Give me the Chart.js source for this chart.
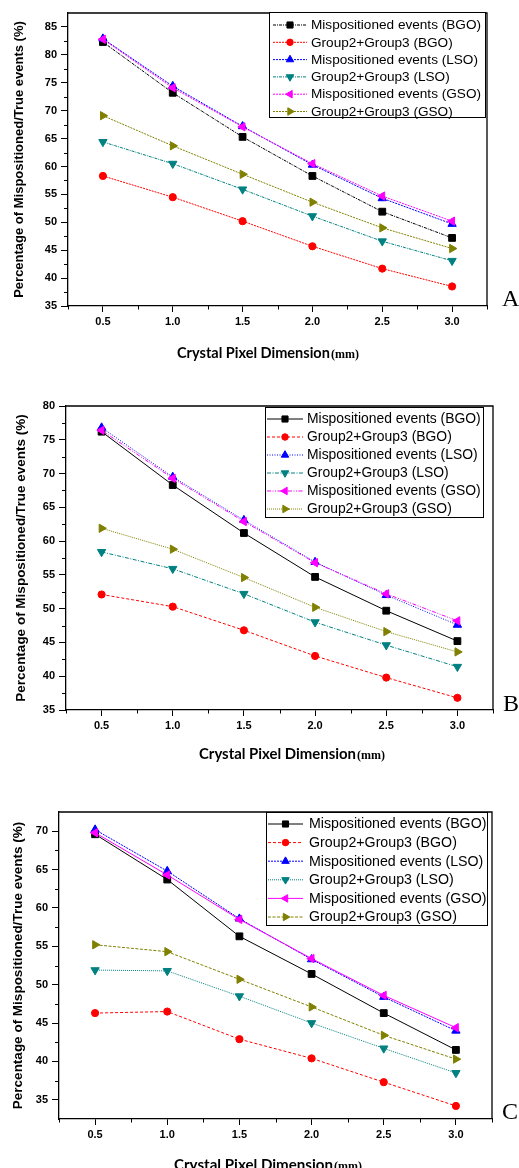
<!DOCTYPE html>
<html>
<head>
<meta charset="utf-8">
<script src="https://cdn.jsdelivr.net/npm/chart.js@4.4.1/dist/chart.umd.min.js"></script>
<style>
  html, body { margin: 0; padding: 0; background: #fff; }
  canvas { position: absolute; left: 0; }
</style>
</head>
<body>
<canvas id="chartA" style="top:0px" width="519" height="390"></canvas>
<canvas id="chartB" style="top:390px" width="519" height="390"></canvas>
<canvas id="chartC" style="top:780px" width="519" height="388"></canvas>
<script>
// crystal pixel size (mm)
const pixelSizes = [0.5, 1.0, 1.5, 2.0, 2.5, 3.0];
const xTicks = [0.5, 1.0, 1.5, 2.0, 2.5, 3.0];

const seriesNames = [
  'Mispositioned events (BGO)',
  'Group2+Group3 (BGO)',
  'Mispositioned events (LSO)',
  'Group2+Group3 (LSO)',
  'Mispositioned events (GSO)',
  'Group2+Group3 (GSO)'
];

// panel A
const misBgoA = [82.3, 73.2, 65.3, 58.3, 51.9, 47.2];
const grpBgoA = [58.3, 54.5, 50.2, 45.7, 41.7, 38.5];
const misLsoA = [82.9, 74.4, 67.2, 60.3, 54.3, 49.7];
const grpLsoA = [64.4, 60.5, 55.9, 51.1, 46.6, 43.1];
const misGsoA = [82.8, 74.1, 67.1, 60.5, 54.7, 50.2];
const grpGsoA = [69.1, 63.7, 58.6, 53.6, 49.0, 45.3];
const yTicksA = [35, 40, 45, 50, 55, 60, 65, 70, 75, 80, 85];

// panel B
const misBgoB = [76.2, 68.3, 61.2, 54.7, 49.7, 45.2];
const grpBgoB = [52.1, 50.3, 46.8, 43.0, 39.8, 36.8];
const misLsoB = [76.8, 69.5, 63.1, 56.9, 52.0, 47.6];
const grpLsoB = [58.4, 55.9, 52.2, 48.0, 44.6, 41.4];
const misGsoB = [76.4, 69.3, 62.9, 56.8, 52.2, 48.2];
const grpGsoB = [61.9, 58.8, 54.6, 50.2, 46.6, 43.6];
const yTicksB = [35, 40, 45, 50, 55, 60, 65, 70, 75, 80];

// panel C
const misBgoC = [69.6, 63.7, 56.3, 51.4, 46.3, 41.5];
const grpBgoC = [46.3, 46.5, 42.9, 40.4, 37.3, 34.2];
const misLsoC = [70.2, 64.8, 58.6, 53.3, 48.4, 44.0];
const grpLsoC = [51.9, 51.8, 48.5, 45.0, 41.7, 38.5];
const misGsoC = [69.8, 64.3, 58.5, 53.4, 48.6, 44.4];
const grpGsoC = [55.2, 54.3, 50.7, 47.1, 43.4, 40.3];
const yTicksC = [35, 40, 45, 50, 55, 60, 65, 70];

// marker + colour per series (same in every panel)
const seriesColors = ['#000000', '#ff0000', '#0000ff', '#008080', '#ff00ff', '#808000'];
const seriesMarkers = ['rect', 'circle', 'triangle', 'triangle', 'triangle', 'triangle'];
const seriesRotation = [0, 0, 0, 180, 270, 90];
const seriesRadius = [4.8, 3.6, 4.8, 4.8, 4.8, 4.8];

function pts(vals) {
  return vals.map((v, i) => ({ x: pixelSizes[i], y: v }));
}

function drawMarker(ctx, style, rot, r, x, y) {
  if (Chart.helpers && Chart.helpers.drawPoint) {
    Chart.helpers.drawPoint(ctx, { pointStyle: style, rotation: rot, radius: r, borderWidth: 1 }, x, y);
  }
}

// frame, minor ticks, x title, panel letter, legend
const extrasPlugin = {
  id: 'extras',
  afterDraw(chart) {
    const cfg = chart.options.plugins.extras;
    const ctx = chart.ctx;
    const a = chart.chartArea;
    const xs = chart.scales.x, ys = chart.scales.y;
    ctx.save();

    // box top and right
    ctx.strokeStyle = '#000';
    ctx.lineWidth = 1.3;
    ctx.beginPath();
    ctx.moveTo(a.left, a.top);
    ctx.lineTo(a.right, a.top);
    ctx.lineTo(a.right, a.bottom);
    ctx.stroke();

    // minor ticks
    ctx.lineWidth = 1;
    ctx.beginPath();
    cfg.yMinor.forEach(v => {
      const py = Math.round(ys.getPixelForValue(v)) + 0.5;
      ctx.moveTo(a.left - 4, py); ctx.lineTo(a.left, py);
    });
    cfg.xMinor.forEach(v => {
      const px = Math.round(xs.getPixelForValue(v)) + 0.5;
      ctx.moveTo(px, a.bottom); ctx.lineTo(px, a.bottom + 3.5);
    });
    ctx.stroke();

    // x axis title: "Crystal Pixel Dimension" + small "(mm)"
    const main = 'Crystal Pixel Dimension';
    ctx.font = 'bold 100px Lato';
    const w100 = ctx.measureText(main).width;
    const fs = 100 * cfg.titleWidth / w100;
    ctx.font = 'bold ' + fs.toFixed(2) + 'px Lato';
    ctx.fillStyle = '#000';
    ctx.textBaseline = 'alphabetic';
    ctx.textAlign = 'left';
    ctx.fillText(main, cfg.titleX, cfg.titleY);
    ctx.font = 'bold 12px "Liberation Serif"';
    ctx.fillText('(mm)', cfg.titleX + cfg.titleWidth + 1, cfg.titleY);

    // panel letter
    ctx.font = '24px "Liberation Serif"';
    ctx.fillText(cfg.letter, cfg.letterX, cfg.letterY);

    // legend
    const lg = cfg.legend;
    ctx.fillStyle = '#fff';
    ctx.fillRect(lg.x, lg.y, lg.w, lg.h);
    ctx.strokeStyle = '#000';
    ctx.lineWidth = 1;
    ctx.strokeRect(lg.x + 0.5, lg.y + 0.5, lg.w, lg.h);
    chart.data.datasets.forEach((ds, i) => {
      const cy = lg.y + lg.first + i * lg.gap;
      ctx.strokeStyle = ds.borderColor;
      ctx.lineWidth = ds.borderWidth;
      ctx.setLineDash(ds.borderDash || []);
      ctx.beginPath();
      ctx.moveTo(lg.lineX0, cy);
      ctx.lineTo(lg.lineX1, cy);
      ctx.stroke();
      ctx.setLineDash([]);
      ctx.fillStyle = ds.pointBackgroundColor;
      ctx.strokeStyle = ds.pointBorderColor;
      drawMarker(ctx, ds.pointStyle, ds.pointRotation, ds.pointRadius * 0.9, (lg.lineX0 + lg.lineX1) / 2, cy);
      ctx.fillStyle = '#000';
      ctx.font = lg.font + 'px "Liberation Sans"';
      ctx.textBaseline = 'middle';
      ctx.fillText(ds.label, lg.textX, cy + 0.5);
    });
    ctx.restore();
  }
};

function makePanel(id, p) {
  const datasets = p.series.map((vals, i) => ({
    label: seriesNames[i],
    data: pts(vals),
    borderColor: seriesColors[i],
    backgroundColor: seriesColors[i],
    borderWidth: 1,
    borderDash: p.dashes[i],
    pointStyle: seriesMarkers[i],
    pointRotation: seriesRotation[i],
    pointRadius: seriesRadius[i],
    pointBackgroundColor: seriesColors[i],
    pointBorderColor: seriesColors[i],
    pointBorderWidth: 1,
    tension: 0,
    order: 5 - i
  }));

  const tickFont = { family: 'Liberation Sans', size: 11, weight: 'bold' };

  new Chart(document.getElementById(id).getContext('2d'), {
    type: 'line',
    data: { datasets: datasets },
    options: {
      responsive: false,
      animation: false,
      devicePixelRatio: 1,
      layout: { padding: { left: 0, top: p.top, right: p.right, bottom: 0 } },
      scales: {
        x: {
          type: 'linear',
          min: 0.25,
          max: 3.25,
          afterBuildTicks: s => { s.ticks = xTicks.map(v => ({ value: v })); },
          afterFit: s => { s.height = p.xAxisHeight; },
          ticks: {
            font: tickFont,
            color: '#000',
            padding: 3,
            maxRotation: 0,
            autoSkip: false,
            callback: v => Number(v).toFixed(1)
          },
          grid: { drawOnChartArea: false, drawTicks: true, tickLength: 6, tickColor: '#000', tickWidth: 1 },
          border: { display: true, color: '#000', width: 1.3 }
        },
        y: {
          type: 'linear',
          min: p.yMin,
          max: p.yMax,
          afterBuildTicks: s => { s.ticks = p.yTicks.map(v => ({ value: v })); },
          afterFit: s => { s.width = p.yAxisWidth; },
          ticks: { font: tickFont, color: '#000', padding: 4, autoSkip: false },
          grid: { drawOnChartArea: false, drawTicks: true, tickLength: 7, tickColor: '#000', tickWidth: 1 },
          border: { display: true, color: '#000', width: 1.3 },
          title: {
            display: true,
            text: 'Percentage of Mispositioned/True events (%)',
            color: '#000',
            font: { family: 'Liberation Sans', size: p.yTitleSize, weight: 'bold' },
            padding: { top: p.yTitlePad, bottom: 0 }
          }
        }
      },
      plugins: {
        legend: { display: false },
        tooltip: { enabled: false },
        extras: p.extras
      }
    },
    plugins: [extrasPlugin]
  });
}

const xMinor = [0.25, 0.75, 1.25, 1.75, 2.25, 2.75, 3.25];

makePanel('chartA', {
  series: [misBgoA, grpBgoA, misLsoA, grpLsoA, misGsoA, grpGsoA],
  dashes: [[3, 1, 1, 1], [2, 1], [2, 1], [3, 1, 1, 1], [2, 1], [2, 1]],
  yMin: 35, yMax: 87.5, yTicks: yTicksA,
  top: 13, right: 32, yAxisWidth: 68, xAxisHeight: 84,
  yTitleSize: 13, yTitlePad: 12,
  extras: {
    yMinor: [37.5, 42.5, 47.5, 52.5, 57.5, 62.5, 67.5, 72.5, 77.5, 82.5],
    xMinor: xMinor,
    titleX: 177, titleY: 358, titleWidth: 153,
    letter: 'A', letterX: 502, letterY: 306,
    legend: { x: 269, y: 12, w: 216, h: 105, first: 13, gap: 17.3, lineX0: 273, lineX1: 307, textX: 311, font: 13.6 }
  }
});

makePanel('chartB', {
  series: [misBgoB, grpBgoB, misLsoB, grpLsoB, misGsoB, grpGsoB],
  dashes: [[], [3, 2], [1, 1.5], [4, 1.5, 1, 1.5], [4, 1.5, 1, 1.5, 1, 1.5], [1, 1]],
  yMin: 35, yMax: 80, yTicks: yTicksB,
  top: 16, right: 26, yAxisWidth: 66, xAxisHeight: 70,
  yTitleSize: 13.5, yTitlePad: 13,
  extras: {
    yMinor: [37.5, 42.5, 47.5, 52.5, 57.5, 62.5, 67.5, 72.5, 77.5],
    xMinor: xMinor,
    titleX: 199, titleY: 369, titleWidth: 157,
    letter: 'B', letterX: 503, letterY: 321,
    legend: { x: 265, y: 17, w: 218, h: 110, first: 12, gap: 18, lineX0: 267, lineX1: 303, textX: 307, font: 13.9 }
  }
});

makePanel('chartC', {
  series: [misBgoC, grpBgoC, misLsoC, grpLsoC, misGsoC, grpGsoC],
  dashes: [[], [3, 2], [2, 1], [1, 1], [], [3, 1.5]],
  yMin: 32.5, yMax: 72.5, yTicks: yTicksC,
  top: 32, right: 27, yAxisWidth: 59, xAxisHeight: 49,
  yTitleSize: 13.5, yTitlePad: 10,
  extras: {
    yMinor: [37.5, 42.5, 47.5, 52.5, 57.5, 62.5, 67.5],
    xMinor: xMinor,
    titleX: 174, titleY: 390, titleWidth: 159,
    letter: 'C', letterX: 502, letterY: 339,
    legend: { x: 266, y: 32, w: 221, h: 113, first: 12, gap: 18.6, lineX0: 268, lineX1: 303, textX: 309, font: 14.2 }
  }
});
</script>
</body>
</html>
